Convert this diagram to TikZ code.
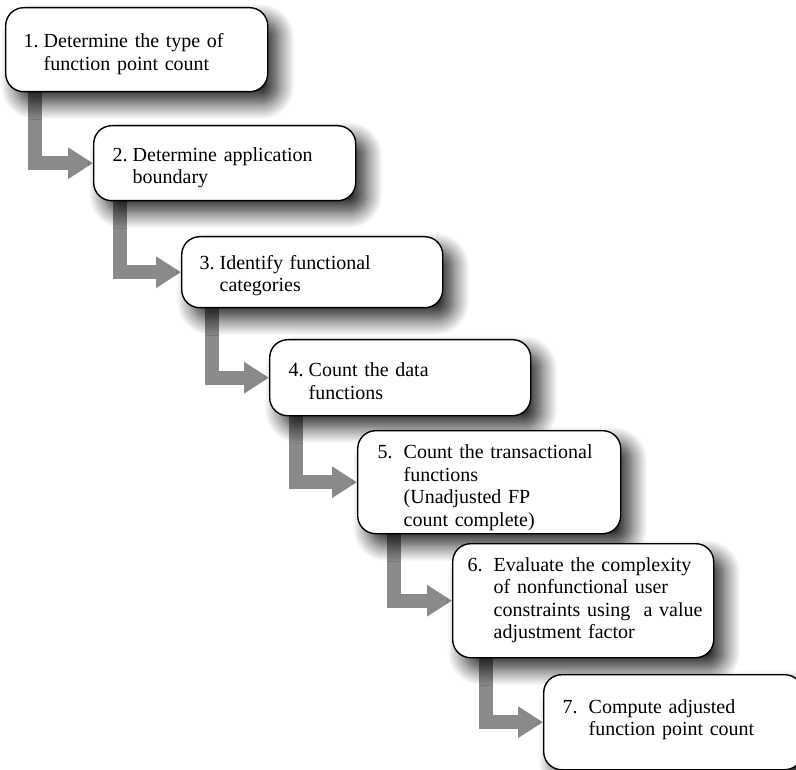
\documentclass[tikz,border=0pt]{standalone}
\usepackage{fontspec}
\setmainfont{Liberation Serif}
\usetikzlibrary{arrows.meta,shadows.blur,calc,backgrounds}
\definecolor{flowgray}{HTML}{8A8A8A}
% numbered step text with a hanging indent after the number;
% the optional argument lowers the text without changing the box size
\newcommand{\steplines}[4][0pt]{\raisebox{-#1}[\height][\depth]{%
  \begin{tabular}{@{}l@{\hspace{#3}}l@{}}#2&#4\end{tabular}}}
\tikzset{
  stepbox/.style={draw=black, line width=1.4pt, fill=white,
    rounded corners=18pt, anchor=north west, align=left,
    inner ysep=0pt, inner xsep=18pt,
    font=\fontsize{20}{22.5}\selectfont,
    blur shadow={shadow xshift=11pt, shadow yshift=-12pt,
      shadow blur radius=16pt, shadow blur steps=16, shadow opacity=85}},
  flow/.style={draw=flowgray, line width=14pt, line join=miter,
    -{Triangle[width=30pt,length=25pt]}}
}
\begin{document}
\begin{tikzpicture}[x=1pt,y=-1pt]
\useasboundingbox (0,0) rectangle (796,770);

% process steps
\node[stepbox, text width=226pt, minimum height=84pt] (b1) at (5,7)
  {\steplines[5pt]{1.}{5pt}{Determine the type of\\ & function point count}};
\node[stepbox, text width=224pt, minimum height=75pt, inner xsep=19pt] (b2) at (93,125)
  {\steplines[5pt]{2.}{5pt}{Determine application\\ & boundary}};
\node[stepbox, text width=225pt, minimum height=71pt] (b3) at (181,236)
  {\steplines[4pt]{3.}{5pt}{Identify functional\\ & categories}};
\node[stepbox, minimum height=76pt, inner xsep=19pt, text width=223pt] (b4) at (269,339)
  {\steplines[6pt]{4.}{5pt}{Count the data\\ & functions}};
\node[stepbox, text width=223pt, minimum height=103pt, inner xsep=20pt] (b5) at (357,430)
  {\steplines[6pt]{5.}{11pt}{Count the transactional\\ & functions\\ & (Unadjusted FP\\ & count complete)}};
\node[stepbox, text width=231pt, minimum height=114pt, inner xsep=15pt] (b6) at (452,543)
  {\steplines{6.}{11pt}{Evaluate the complexity\\ & of nonfunctional user\\ & constraints using\ \ a value\\ & adjustment factor}};
\node[stepbox, text width=221pt, minimum height=95pt, inner xsep=19pt] (b7) at (543,674)
  {\steplines[-2pt]{7.}{11pt}{Compute adjusted\\ & function point count}};

% L-shaped connectors, behind the boxes
\begin{pgfonlayer}{background}
  \draw[flow] ($(b1.south west)+(30,-8)$) |- (b2.west);
  \draw[flow] ($(b2.south west)+(27,-8)$) |- (b3.west);
  \draw[flow] ($(b3.south west)+(31,-8)$) |- (b4.west);
  \draw[flow] ($(b4.south west)+(27,-8)$) |- (b5.west);
  \draw[flow] ($(b5.south west)+(37,-8)$) |- (b6.west);
  \draw[flow] ($(b6.south west)+(34,-8)$) |- (b7.west);
\end{pgfonlayer}
\end{tikzpicture}
\end{document}
